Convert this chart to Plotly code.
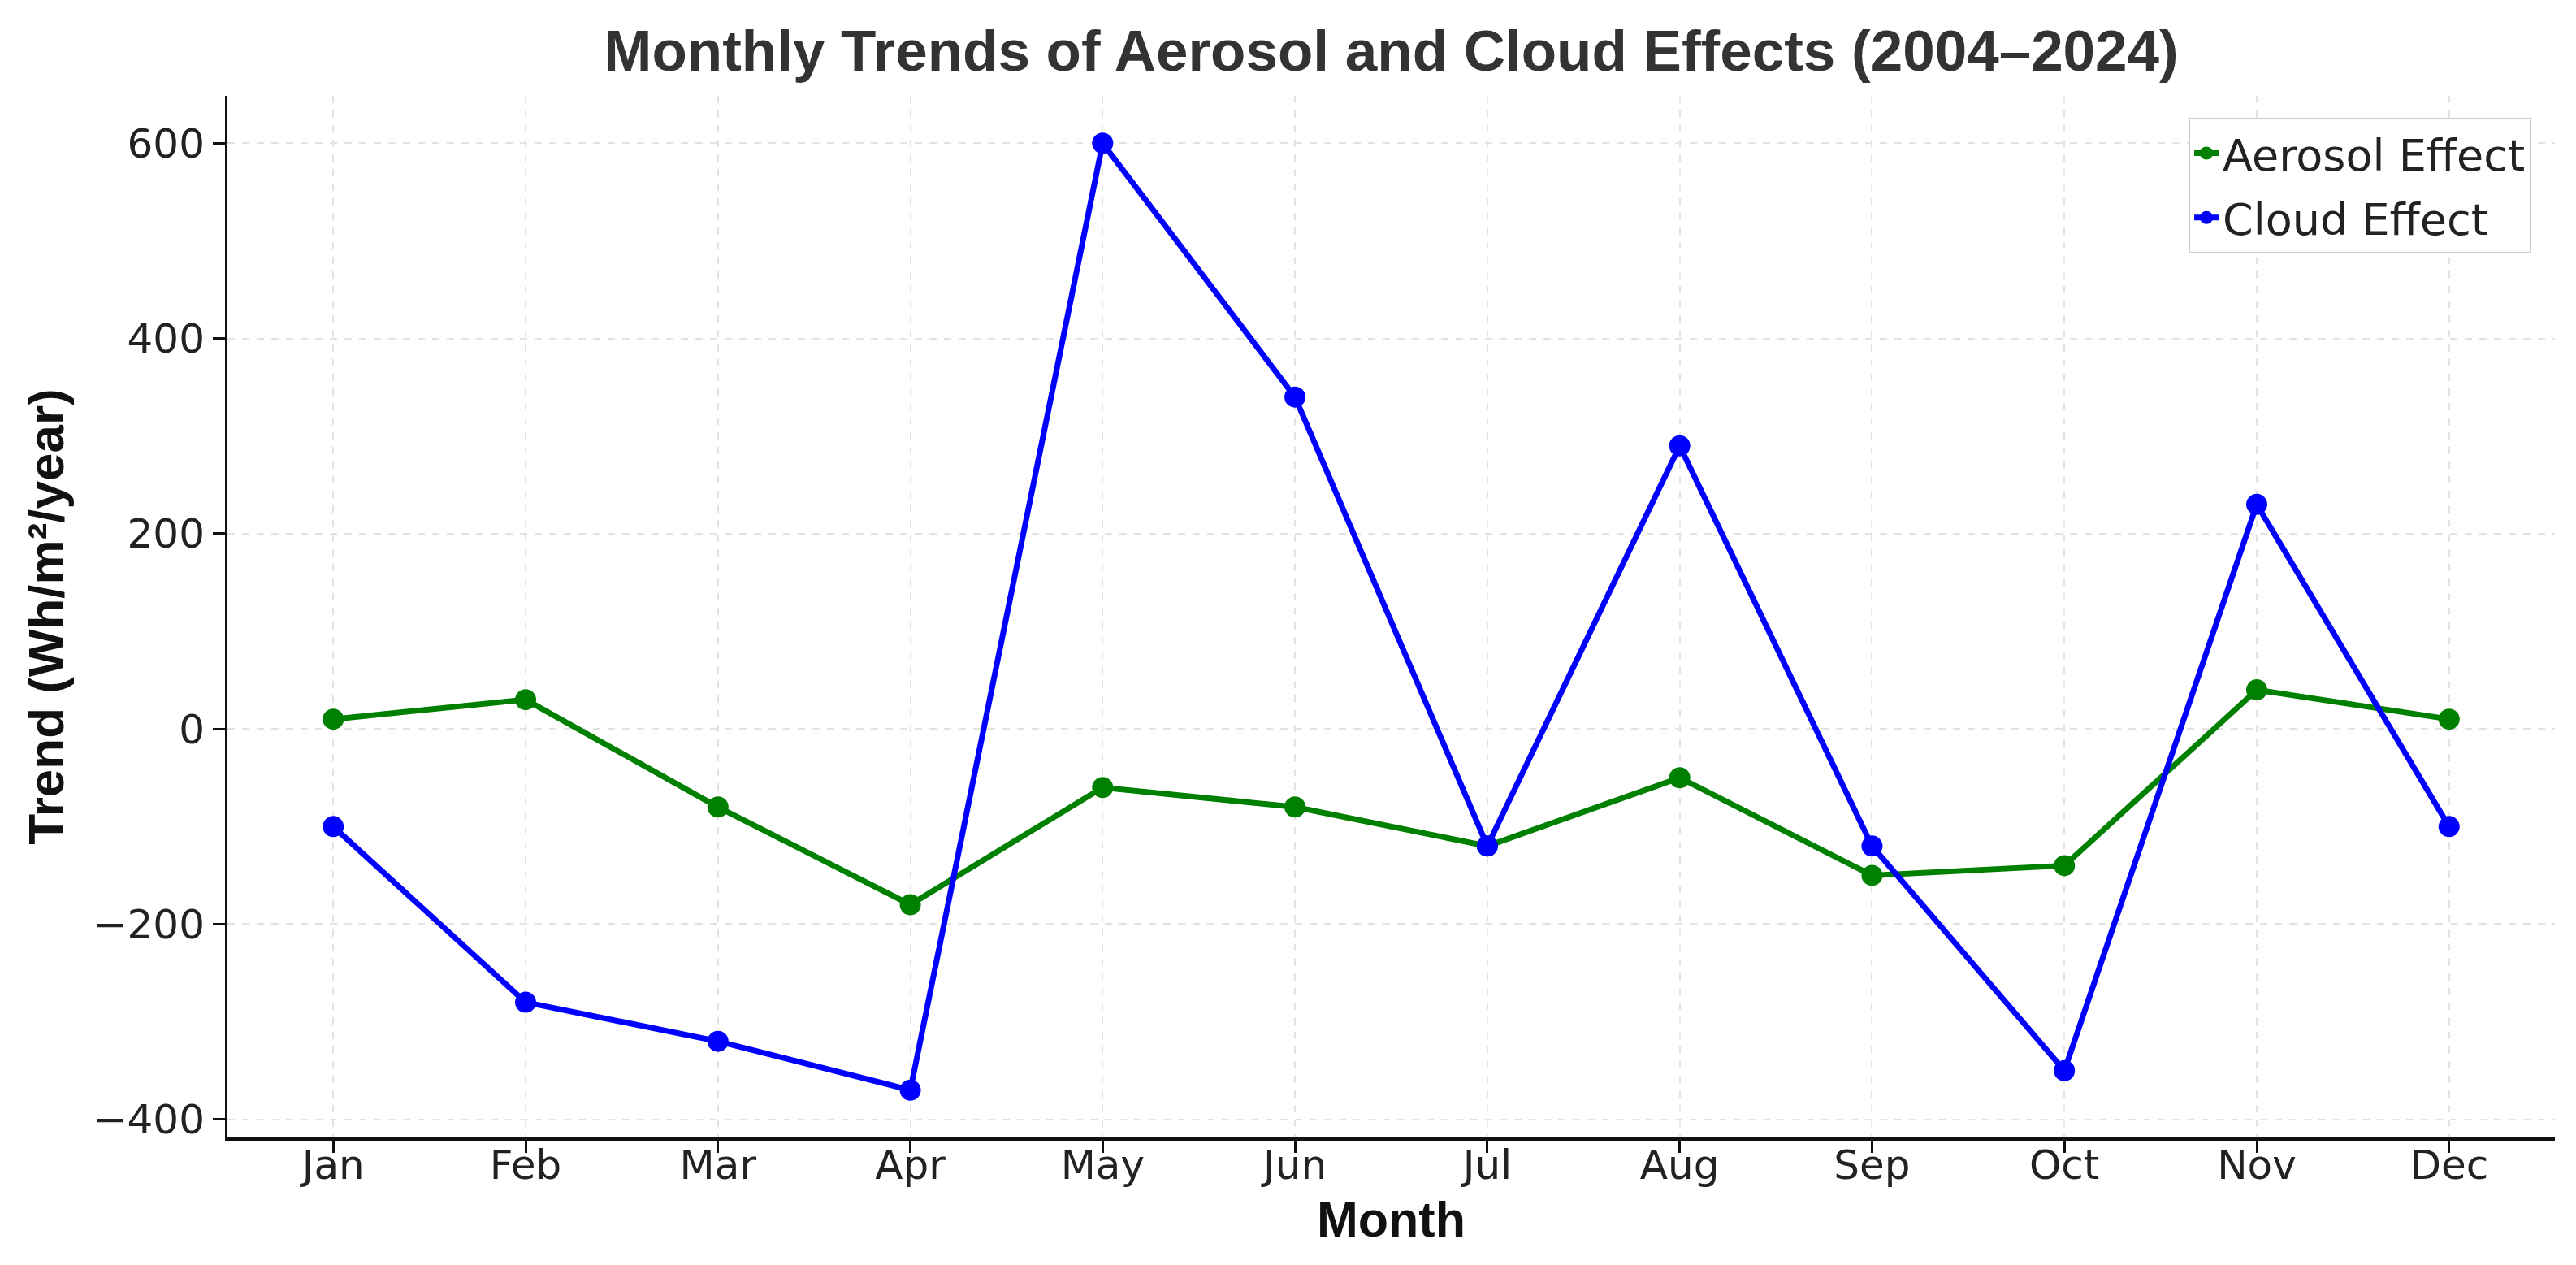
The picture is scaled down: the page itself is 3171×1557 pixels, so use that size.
import plotly.graph_objects as go

months = ["Jan", "Feb", "Mar", "Apr", "May", "Jun", "Jul", "Aug", "Sep", "Oct", "Nov", "Dec"]
aerosol_effect = [10, 30, -80, -180, -60, -80, -120, -50, -150, -140, 40, 10]
cloud_effect = [-100, -280, -320, -370, 600, 340, -120, 290, -120, -350, 230, -100]
y_ticks = [-400, -200, 0, 200, 400, 600]

x_idx = list(range(len(months)))

fig = go.Figure()
fig.add_trace(go.Scatter(
    x=x_idx, y=aerosol_effect, mode="lines+markers", name="Aerosol Effect", legendgroup="a",
    line=dict(color="#008000", width=7), marker=dict(color="#008000", size=26)))
fig.add_trace(go.Scatter(
    x=x_idx, y=cloud_effect, mode="lines+markers", name="Cloud Effect", legendgroup="c",
    line=dict(color="#0000ff", width=7), marker=dict(color="#0000ff", size=26)))

fig.update_layout(
    width=3171, height=1557,
    margin=dict(l=272, r=34, t=110, b=165),
    paper_bgcolor="white", plot_bgcolor="white",
    title=dict(text="<b>Monthly Trends of Aerosol and Cloud Effects (2004–2024)</b>",
               font=dict(family="Liberation Sans", size=71, color="#333333"),
               x=0.5, xref="paper", xanchor="center",
               y=1 - 54 / 1557, yref="container", yanchor="middle"),
    legend=dict(x=0.9899, y=0.979, xanchor="right", yanchor="top",
                bgcolor="white", bordercolor="#cccccc", borderwidth=2,
                font=dict(family="DejaVu Sans", size=54, color="#222222"),
                tracegroupgap=6),
    showlegend=True,
)

fig.update_xaxes(
    range=[-0.55, 11.55], tickmode="array", tickvals=x_idx, ticktext=months,
    showgrid=True, gridcolor="#e3e3e3", gridwidth=2, griddash="dash",
    showline=True, linecolor="#111111", linewidth=4,
    ticks="outside", ticklen=15, tickwidth=3, tickcolor="#111111",
    ticklabelstandoff=-28,
    tickfont=dict(family="DejaVu Sans", size=50, color="#222222"),
    title=dict(text="<b>Month</b>", font=dict(family="Liberation Sans", size=61, color="#111111"),
               standoff=18),
    zeroline=False,
)
fig.update_yaxes(
    range=[-418.5, 648.5], tickmode="array", tickvals=y_ticks,
    showgrid=True, gridcolor="#e3e3e3", gridwidth=2, griddash="dash",
    showline=True, linecolor="#111111", linewidth=3,
    ticks="outside", ticklen=15, tickwidth=3, tickcolor="#111111",
    tickfont=dict(family="DejaVu Sans", size=50, color="#222222"),
    title=dict(text="<b>Trend (Wh/m²/year)</b>", font=dict(family="Liberation Sans", size=62, color="#111111"),
               standoff=16),
    zeroline=False,
)

fig.write_html("out.html")
